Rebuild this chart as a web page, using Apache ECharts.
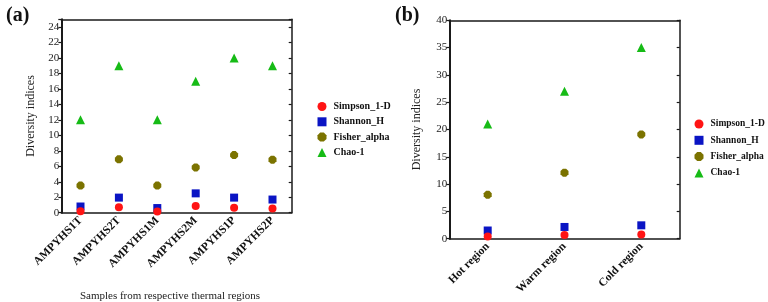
<!DOCTYPE html>
<html><head><meta charset="utf-8">
<script src="https://cdn.jsdelivr.net/npm/echarts@6/dist/echarts.min.js"></script>
<style>html,body{margin:0;padding:0;background:#fff}#c{width:768px;height:302px}</style>
</head><body><div id="c"></div>
<script>
// Panel (a)
const samplesA = ['AMPYHS1T','AMPYHS2T','AMPYHS1M','AMPYHS2M','AMPYHS1P','AMPYHS2P'];
const simpsonA = [0.2, 0.7, 0.15, 0.85, 0.65, 0.55];
const shannonA = [0.8, 1.95, 0.6, 2.5, 1.95, 1.7];
const fisherA  = [3.5, 6.9, 3.5, 5.85, 7.45, 6.85];
const chaoA    = [12, 19, 12, 17, 20, 19];
// Panel (b)
const regionsB = ['Hot region','Warm region','Cold region'];
const simpsonB = [0.4, 0.7, 0.75];
const shannonB = [1.5, 2.15, 2.45];
const fisherB  = [8.05, 12.1, 19.1];
const chaoB    = [21, 27, 35];
const names = ['Simpson_1-D','Shannon_H','Fisher_alpha','Chao-1'];
const yTicksA = {min:0, max:25, interval:2};
const yTicksB = {min:0, max:40, interval:5};

const serif = '"Liberation Serif","DejaVu Serif",serif';
const colors = ['#ff1414','#0a14c4','#7b7300','#16bb16'];
const hex = 'path://M-0.4,-1 L0.4,-1 L1,-0.4 L1,0.4 L0.4,1 L-0.4,1 L-1,0.4 L-1,-0.4 Z';
const symbols = ['circle','rect',hex,'triangle'];
const sizes = [8,8,8,9];
const axCol = '#1a1a1a';

function xBottom(gi, cats){
  return {type:'category', gridIndex:gi, data:cats, position:'bottom', boundaryGap:true,
    axisLine:{onZero:false, lineStyle:{color:axCol,width:1.5}},
    axisTick:{alignWithLabel:true, length:3, lineStyle:{color:axCol,width:1.2}},
    axisLabel:{rotate:45, fontFamily:serif, fontWeight:'bold', fontSize:11.5, color:'#111', margin:6, interval:0},
    splitLine:{show:false}};
}
function xTop(gi, cats){
  return {type:'category', gridIndex:gi, data:cats, position:'top', boundaryGap:true,
    axisLine:{onZero:false, lineStyle:{color:axCol,width:1.5}},
    axisTick:{alignWithLabel:true, length:3, lineStyle:{color:axCol,width:1.2}},
    axisLabel:{show:false}, splitLine:{show:false}};
}
function yLeft(gi, t, gap, hideMax){
  return {type:'value', gridIndex:gi, position:'left', min:t.min, max:t.max, interval:t.interval,
    name:'Diversity indices', nameLocation:'middle', nameGap:gap,
    nameTextStyle:{fontFamily:serif, fontSize:12, color:'#222'},
    axisLine:{show:true, onZero:false, lineStyle:{color:axCol,width:2}},
    axisTick:{show:true, length:3, lineStyle:{color:axCol,width:1.2}},
    axisLabel:{fontFamily:serif, fontSize:11, color:'#222', margin:2,
      formatter: v => (hideMax && v === t.max) ? '' : String(v)},
    splitLine:{show:false}};
}
function yRight(gi, t){
  return {type:'value', gridIndex:gi, position:'right', min:t.min, max:t.max, interval:t.interval,
    axisLine:{show:true, onZero:false, lineStyle:{color:axCol,width:1.5}},
    axisTick:{show:true, inside:true, length:3, lineStyle:{color:axCol,width:1.2}},
    axisLabel:{show:false}, splitLine:{show:false}};
}

const seriesData = [[simpsonA,shannonA,fisherA,chaoA],[simpsonB,shannonB,fisherB,chaoB]];
const series = [];
for (let g=0; g<2; g++){
  for (let i=0;i<4;i++){
    series.push({type:'scatter', name:names[i], xAxisIndex:g*2, yAxisIndex:g*2,
      data:seriesData[g][i], symbol:symbols[i], symbolSize:sizes[i],
      itemStyle:{color:colors[i], opacity:1}, z: i===0 ? 5 : 3});
  }
}
function legend(left, top, gap, fs){
  return {orient:'vertical', left:left, top:top, itemWidth:9, itemHeight:9, itemGap:gap,
    data:names.map((n,i)=>({name:n, icon:symbols[i], itemStyle:{color:colors[i]}})),
    textStyle:{fontFamily:serif, fontWeight:'bold', fontSize:fs, color:'#111', padding:[0,0,0,2]},
    selectedMode:false};
}

const chart = echarts.init(document.getElementById('c'), null, {renderer:'canvas'});
chart.setOption({
  backgroundColor:'#fff',
  animation:false,
  title:[
    {text:'(a)', left:1, top:1, textStyle:{fontFamily:serif, fontWeight:'bold', fontSize:20, color:'#111'}},
    {text:'(b)', left:390, top:1, textStyle:{fontFamily:serif, fontWeight:'bold', fontSize:20, color:'#111'}},
    {text:'Samples from respective thermal regions', left:165, top:286, textAlign:'center',
      textStyle:{fontFamily:serif, fontWeight:'normal', fontSize:11, color:'#222'}}
  ],
  grid:[
    {left:61.3, top:19.3, width:230.4, height:193.4},
    {left:449.3, top:20.3, width:230.4, height:218.4}
  ],
  xAxis:[xBottom(0,samplesA), xTop(0,samplesA), xBottom(1,regionsB), xTop(1,regionsB)],
  yAxis:[yLeft(0,yTicksA,24,true), yRight(0,yTicksA), yLeft(1,yTicksB,26,false), yRight(1,yTicksB)],
  legend:[legend(312.5,96.5,5.3,10), legend(689.5,114,6.3,9.5)],
  series:series
});
</script></body></html>
